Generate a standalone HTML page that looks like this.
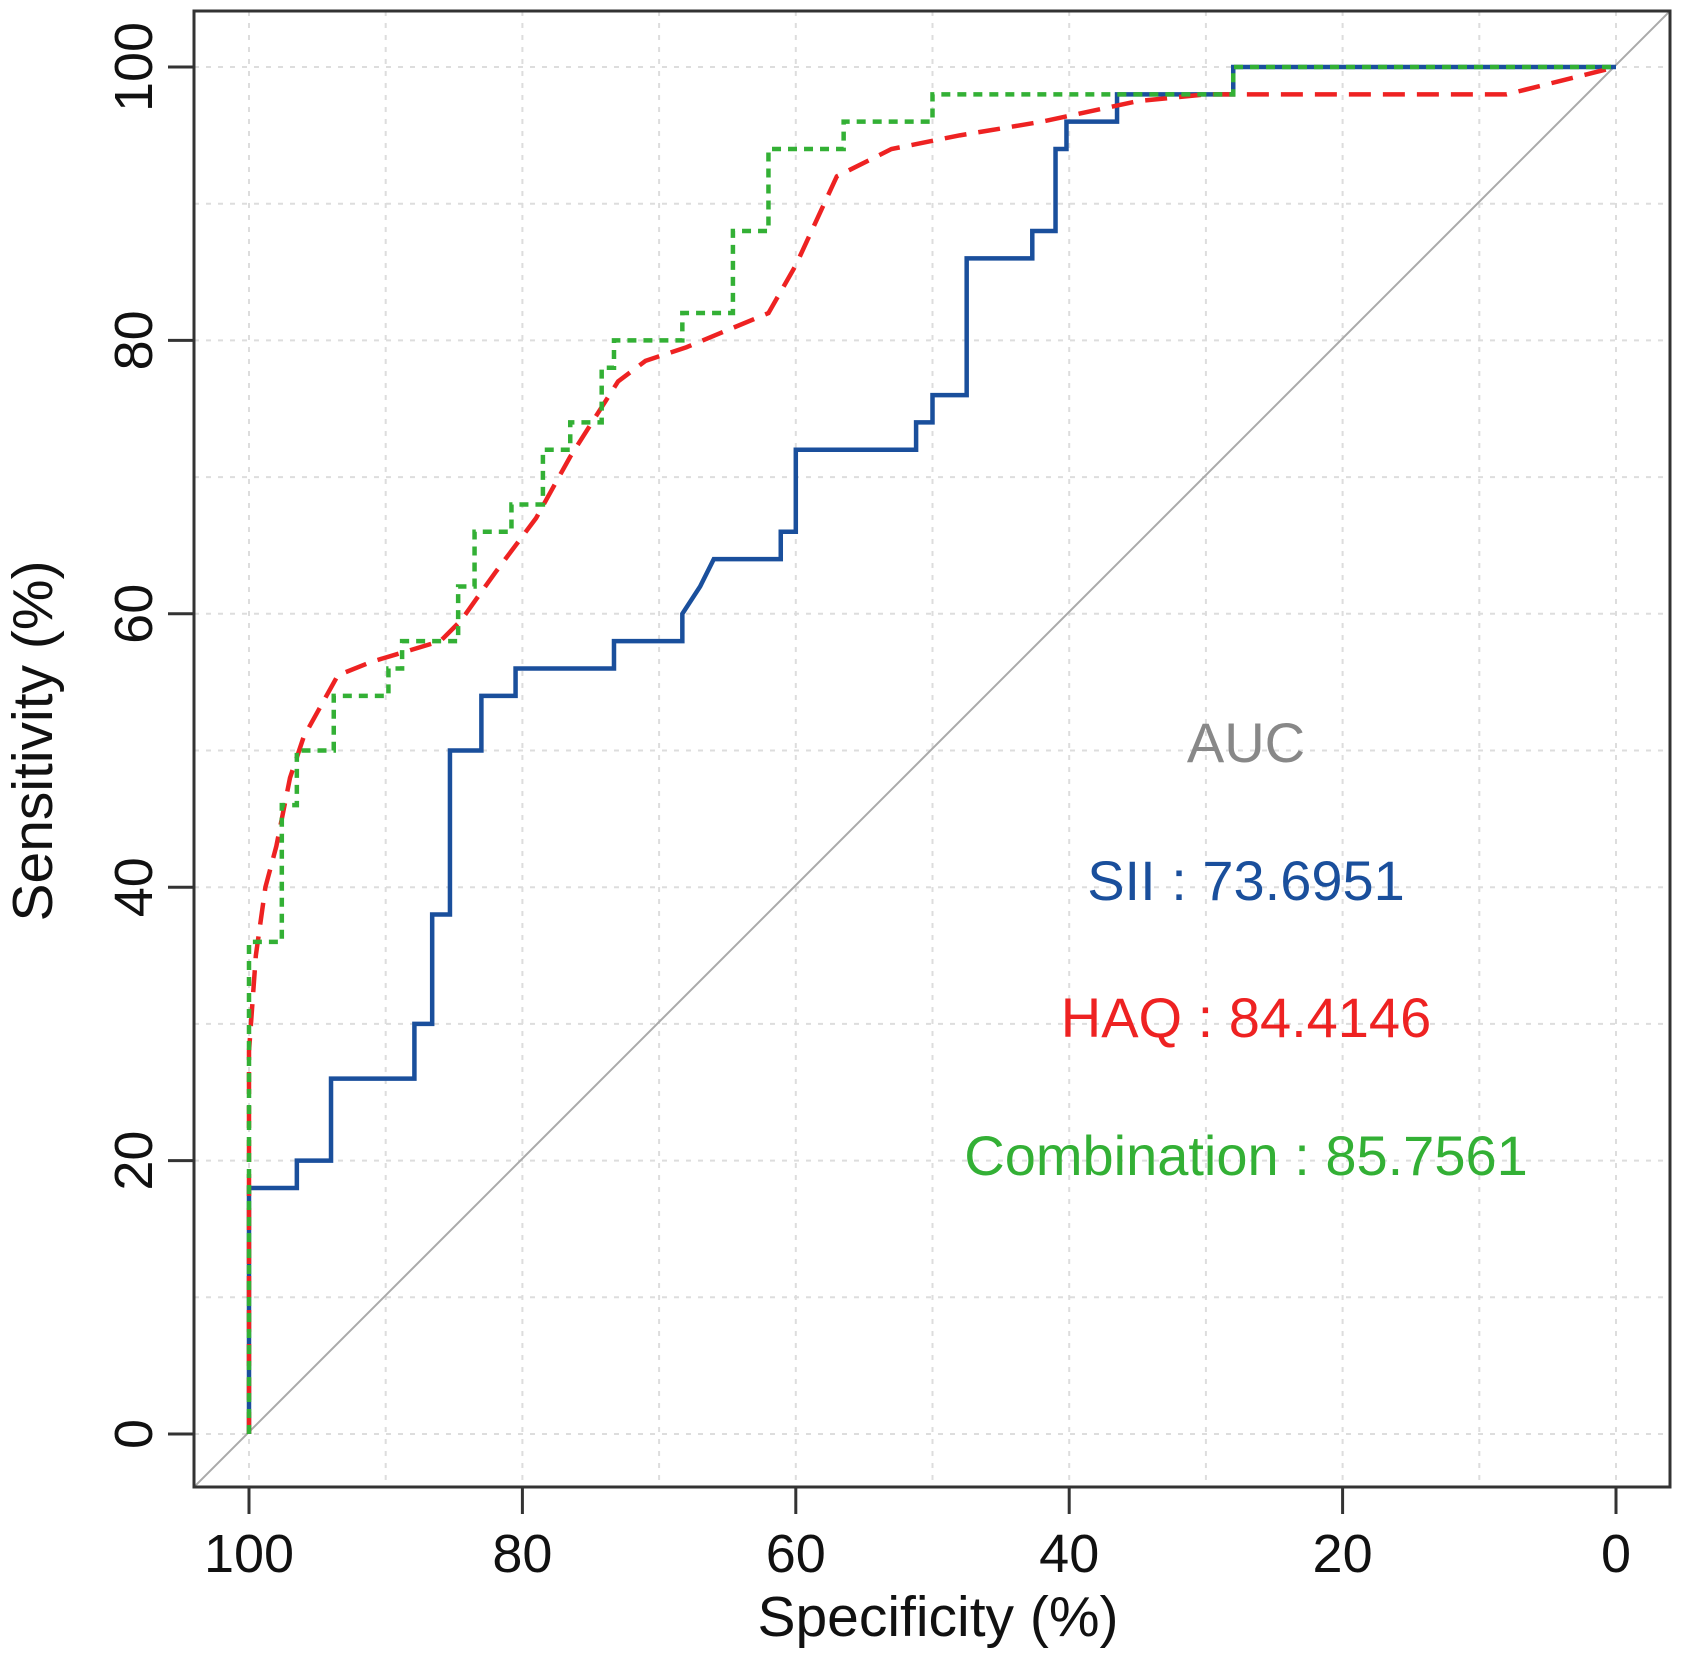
<!DOCTYPE html>
<html><head><meta charset="utf-8"><style>
html,body{margin:0;padding:0;background:#fff;}
svg{display:block;font-family:"Liberation Sans",Arial,sans-serif;}
</style></head><body>
<svg id="chart" width="1684" height="1656" viewBox="0 0 1684 1656">
<defs><clipPath id="clip"><rect x="194" y="11" width="1476" height="1476"/></clipPath></defs>
<g id="grid"></g>
<line x1="194" y1="1487" x2="1670" y2="11" stroke="#aaa" stroke-width="2" clip-path="url(#clip)"/>
<g id="series" clip-path="url(#clip)"></g>
<rect x="194" y="11" width="1476" height="1476" fill="none" stroke="#333" stroke-width="3"/>
<g id="axes"></g>
<text x="938" y="1636" font-size="57" text-anchor="middle" fill="#111">Specificity (%)</text>
<text transform="translate(52,741) rotate(-90)" font-size="57" text-anchor="middle" fill="#111">Sensitivity (%)</text>
<text x="1246" y="762" font-size="56" text-anchor="middle" fill="#888">AUC</text>
<text x="1246" y="900" font-size="56" text-anchor="middle" fill="#1a4f9c">SII : 73.6951</text>
<text x="1246" y="1037" font-size="56" text-anchor="middle" fill="#ee2222">HAQ : 84.4146</text>
<text x="1246" y="1175" font-size="56" text-anchor="middle" fill="#33b035">Combination : 85.7561</text>
</svg>
<script>
const tickValues = [0, 20, 40, 60, 80, 100];
const tickLabels = ["0", "20", "40", "60", "80", "100"];
const gridValues = [0,10,20,30,40,50,60,70,80,90,100];
const siiSpec = [100,100,96.5,96.5,94,94,87.9,87.9,86.6,86.6,85.3,85.3,83,83,80.5,80.5,73.3,73.3,68.3,68.3,67,66,61.1,61.1,60,60,51.2,51.2,50,50,47.5,47.5,42.7,42.7,41,41,40.2,40.2,36.5,36.5,28,28,0];
const siiSens = [0,18,18,20,20,26,26,30,30,38,38,50,50,54,54,56,56,58,58,60,62,64,64,66,66,72,72,74,74,76,76,86,86,88,88,94,94,96,96,98,98,100,100];
const haqSpec = [100,100,99.5,98.8,98,97,96,93.5,91,86,84.5,82,79,76.5,73,71,68,62,60,57,53,48,42,35,30,20,8,4,0];
const haqSens = [0,28,35,40,43,48,51,55.5,56.5,58,59.5,63,67,71.5,77,78.5,79.5,82,85.5,92,94,95,96,97.5,98,98,98,99,100];
const combSpec = [100,100,97.6,97.6,96.5,96.5,93.8,93.8,89.8,89.8,88.8,88.8,84.7,84.7,83.5,83.5,80.8,80.8,78.5,78.5,76.5,76.5,74.2,74.2,73.3,73.3,68.3,68.3,64.6,64.6,62,62,56.5,56.5,50,50,28,28,0];
const combSens = [0,36,36,46,46,50,50,54,54,56,56,58,58,62,62,66,66,68,68,72,72,74,74,78,78,80,80,82,82,88,88,94,94,96,96,98,98,100,100];

const NS='http://www.w3.org/2000/svg';
const X = v => 1616 - v * 13.67;
const Y = v => 1434 - v * 13.67;
function mk(tag, attrs, parent){const e=document.createElementNS(NS,tag);for(const k in attrs)e.setAttribute(k,attrs[k]);parent.appendChild(e);return e;}
const grid=document.getElementById('grid'), axes=document.getElementById('axes'), series=document.getElementById('series');
gridValues.forEach(v=>{
  let l=mk('line',{x1:X(v),x2:X(v),y1:11,y2:1487,stroke:'#ddd','stroke-width':2,'stroke-dasharray':'5,7'},grid);
  
  
  let h=mk('line',{x1:194,x2:1670,y1:Y(v),y2:Y(v),stroke:'#ddd','stroke-width':2,'stroke-dasharray':'5,7'},grid);
  
  
});
tickValues.forEach((v,i)=>{
  let t=mk('line',{x1:X(v),x2:X(v),y1:1487,y2:1514,stroke:'#333','stroke-width':3},axes);
  
  
  let tl=mk('text',{x:X(v),y:1572,'font-size':54,'text-anchor':'middle',fill:'#111'},axes);
  tl.textContent=tickLabels[i];
  
  
  let u=mk('line',{x1:168,x2:194,y1:Y(v),y2:Y(v),stroke:'#333','stroke-width':3},axes);
  
  
  let ul=mk('text',{transform:`translate(152,${Y(v)}) rotate(-90)`,'font-size':54,'text-anchor':'middle',fill:'#111'},axes);
  ul.textContent=tickLabels[i];
  
  
});
function drawLine(sx, sy, color, dash, width, name){
  const pts=sx.map((s,i)=>X(s)+','+Y(sy[i])).join(' ');
  const p=mk('polyline',{points:pts,fill:'none',stroke:color,'stroke-width':width,'stroke-dasharray':dash},series);
  
  
}
drawLine(siiSpec,siiSens,'#1a4f9c','none',4.5,'sii-roc-line');
drawLine(haqSpec,haqSens,'#ee2222','22,12',4.5,'haq-roc-line');
drawLine(combSpec,combSens,'#33b035','9,7',4.5,'combination-roc-line');
</script>
</body></html>
